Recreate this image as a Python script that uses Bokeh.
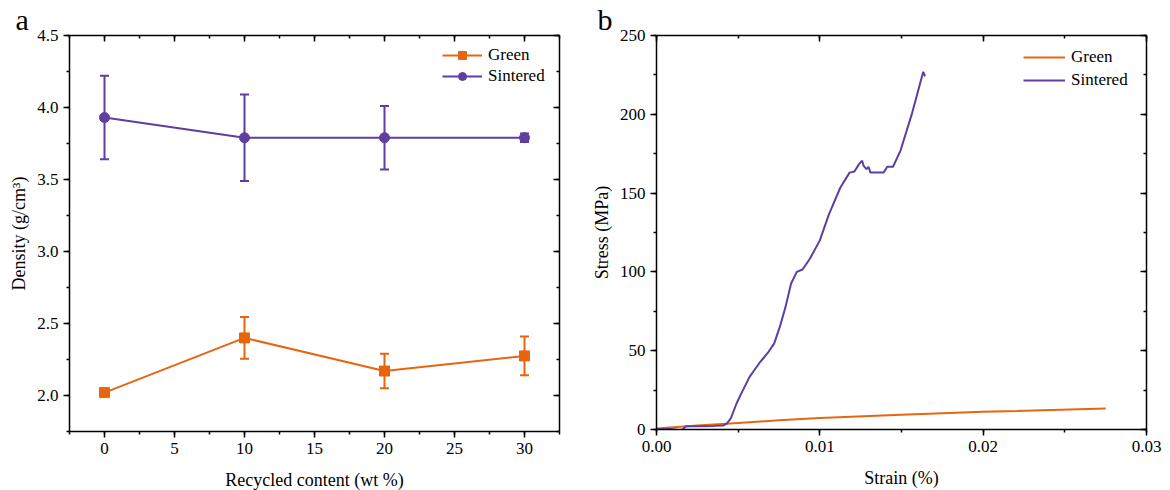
from bokeh.plotting import figure
from bokeh.layouts import row
from bokeh.models import (Range1d, LinearAxis, SingleIntervalTicker, NumeralTickFormatter,
                          ColumnDataSource, Whisker, TeeHead, Title)
from bokeh.embed import file_html
from bokeh.resources import INLINE

# ---------------- data ----------------
recycled = [0, 10, 20, 30]
green_density = [2.02, 2.40, 2.17, 2.275]
green_err = [0.012, 0.145, 0.12, 0.135]
sintered_density = [3.93, 3.79, 3.79, 3.79]
sintered_err = [0.29, 0.30, 0.22, 0.03]

green_strain = [0.0, 0.0025, 0.005, 0.0075, 0.01, 0.015, 0.02, 0.0275]
green_stress = [0.6, 2.5, 4.2, 5.8, 7.3, 9.4, 11.2, 13.3]

sint_strain = [0.0, 0.0008, 0.0014, 0.0016, 0.0018, 0.0025, 0.0035, 0.0041, 0.0043, 0.00455,
               0.0049, 0.00524, 0.0057, 0.00628, 0.00686, 0.0072, 0.00755, 0.0079, 0.00824,
               0.00859, 0.00894, 0.0094, 0.0100, 0.01055, 0.01125, 0.01182, 0.01212, 0.0124,
               0.01259, 0.01268, 0.01286, 0.01298, 0.0131, 0.0139, 0.01413, 0.01448, 0.01494,
               0.01564, 0.01633, 0.01644]
sint_stress = [0.0, 0.3, -0.3, 0.0, 2.0, 2.1, 2.3, 2.6, 3.8, 7.0,
               16.5, 23.9, 33.4, 41.9, 49.3, 54.5, 65.1, 77.8, 92.6,
               100.0, 101.5, 108.5, 120.0, 136.3, 153.4, 163.0, 163.7, 168.4,
               170.5, 167.3, 165.2, 166.7, 163.0, 163.0, 166.7, 166.7, 177.0,
               200.4, 227.0, 224.0]

ORANGE = "#E8650F"
PURPLE = "#5E3EA0"
FONT = "Liberation Serif"


def style_axes(p, xint, yint, xfmt, yfmt):
    p.xaxis.ticker = SingleIntervalTicker(interval=xint, num_minor_ticks=2)
    p.yaxis.ticker = SingleIntervalTicker(interval=yint, num_minor_ticks=2)
    p.xaxis.formatter = NumeralTickFormatter(format=xfmt)
    p.yaxis.formatter = NumeralTickFormatter(format=yfmt)
    for ax in p.xaxis + p.yaxis:
        ax.axis_line_width = 1.5
        ax.axis_line_color = "black"
        ax.major_tick_line_width = 1.5
        ax.minor_tick_line_width = 1.5
        ax.major_tick_out = 6
        ax.major_tick_in = 0
        ax.minor_tick_out = 3
        ax.minor_tick_in = 0
        ax.major_label_text_font = FONT
        ax.major_label_text_font_size = "17px"
        ax.major_label_text_color = "black"
        ax.axis_label_text_font = FONT
        ax.axis_label_text_font_size = "18px"
        ax.axis_label_text_font_style = "normal"
        ax.axis_label_text_color = "black"
        ax.major_label_standoff = 5
    p.xaxis.axis_label_standoff = 13
    p.yaxis.axis_label_standoff = 5
    # mirror axes (top/right) with inward ticks, no labels
    for loc, ti in (("above", xint), ("right", yint)):
        ax = LinearAxis(ticker=SingleIntervalTicker(interval=ti, num_minor_ticks=2),
                        major_label_text_font_size="1px", major_label_text_color=None,
                        major_label_standoff=0,
                        axis_line_width=1.5, axis_line_color="black",
                        major_tick_line_width=1.5, minor_tick_line_width=1.5,
                        major_tick_in=6, major_tick_out=0, minor_tick_in=3, minor_tick_out=0)
        p.add_layout(ax, loc)
    p.xgrid.visible = False
    p.ygrid.visible = False
    p.outline_line_color = None


def style_legend(leg, loc, gw, spacing):
    leg.location = loc
    leg.border_line_color = None
    leg.background_fill_alpha = 0
    leg.label_text_font = FONT
    leg.label_text_font_size = "17px"
    leg.label_text_color = "black"
    leg.glyph_width = gw
    leg.glyph_height = 20
    leg.label_height = 20
    leg.spacing = spacing
    leg.label_standoff = 6
    leg.padding = 10
    leg.margin = 0


def panel_title(letter, offset):
    return Title(text=letter, align="left", offset=offset, standoff=0,
                 text_font=FONT, text_font_size="30px", text_font_style="normal",
                 text_color="black", text_line_height=0.8)


# ---------------- panel a ----------------
pa = figure(width=580, height=490, frame_width=490, frame_height=396,
            min_border_left=69, min_border_right=21, min_border_top=35, min_border_bottom=59,
            x_range=Range1d(-2.5, 32.5), y_range=Range1d(1.75, 4.5),
            output_backend="svg", toolbar_location=None,
            title=panel_title("a", -54),
            x_axis_label="Recycled content (wt %)", y_axis_label="Density (g/cm³)")
style_axes(pa, 5, 0.5, "0", "0.0")

for vals, errs, color, marker, name in ((green_density, green_err, ORANGE, "square", "Green"),
                                         (sintered_density, sintered_err, PURPLE, "circle", "Sintered")):
    src = ColumnDataSource(dict(x=recycled, y=vals,
                                lo=[v - e for v, e in zip(vals, errs)],
                                hi=[v + e for v, e in zip(vals, errs)]))
    w = Whisker(source=src, base="x", lower="lo", upper="hi", line_color=color, line_width=2,
                upper_head=TeeHead(size=9, line_color=color, line_width=2),
                lower_head=TeeHead(size=9, line_color=color, line_width=2))
    pa.add_layout(w)
    pa.line("x", "y", source=src, line_color=color, line_width=2, legend_label=name)
    pa.scatter("x", "y", source=src, marker=marker, size=10, fill_color=color,
               line_color=color, legend_label=name)

style_legend(pa.legend[0], (373, 345), 40, 1)

# ---------------- panel b ----------------
pb = figure(width=590, height=490, frame_width=490, frame_height=394,
            min_border_left=76, min_border_right=24, min_border_top=35, min_border_bottom=61,
            x_range=Range1d(0, 0.03), y_range=Range1d(0, 250),
            output_backend="svg", toolbar_location=None,
            title=panel_title("b", -59),
            x_axis_label="Strain (%)", y_axis_label="Stress (MPa)")
style_axes(pb, 0.01, 50, "0.00", "0")

pb.line(green_strain, green_stress, line_color=ORANGE, line_width=2, legend_label="Green")
pb.line(sint_strain, sint_stress, line_color=PURPLE, line_width=2, legend_label="Sintered")

style_legend(pb.legend[0], (367, 339), 42, 3)

layout = row(pa, pb, spacing=0)
open("out.html", "w").write(file_html(layout, INLINE))
